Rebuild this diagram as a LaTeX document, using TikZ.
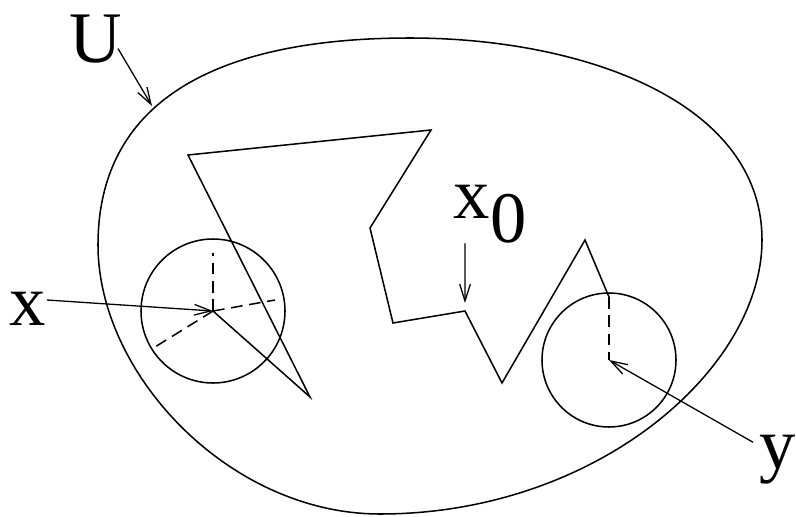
\documentclass[tikz,border=0pt]{standalone}
\usepackage{fontspec}
\setmainfont{Liberation Serif}
\usetikzlibrary{arrows.meta}
\tikzset{
  lbl/.style={inner sep=0pt, font=\fontsize{62}{62}\selectfont},
  barb/.style={-{Straight Barb[length=5mm,width=3.2mm]}, line width=1.1pt},
  aux/.style={dash pattern=on 3.5mm off 2mm},
}
\begin{document}
\begin{tikzpicture}[x=0.3mm,y=-0.3mm,line width=1.3pt]
\useasboundingbox (0,0) rectangle (796,517);

% the set U
\draw (410,38) .. controls (580,38) and (762,100) .. (762,240)
 .. controls (762,370) and (595,514) .. (380,514)
 .. controls (230,514) and (98,375) .. (98,245)
 .. controls (98,105) and (210,38) .. cycle;

% the two balls
\coordinate (xc) at (213,311);
\coordinate (yc) at (609,360);
\draw (xc) circle[radius=21.6mm];
\draw (yc) circle[radius=20.1mm];
\draw[aux] (xc) -- (213,253);
\draw[aux] (xc) -- (275,300);
\draw[aux] (xc) -- (155,347);

% the polygonal path
\coordinate (x0p) at (465,311);
\coordinate (ye) at (609,297);
\draw (xc) -- (310,397) -- (188,155) -- (431,130) -- (370,228) -- (393,323)
 -- (x0p) -- (502,383) -- (585,240) -- (ye);
\draw[aux] (ye) -- (yc);

% labels
\coordinate (ub) at (152,106);
\node[lbl,anchor=base] (U) at (96,62) {U};
\node[lbl,anchor=base] (x) at (28,325) {x};
\node[lbl,anchor=base west] (x0) at (453,218) {x\raisebox{-7.2mm}{0}};
\node[lbl,anchor=base west] (y) at (759,468) {y};

\draw[barb] ([xshift=-1.5mm,yshift=-3mm]U.east) -- (ub);
\draw[barb] ([yshift=2.5mm]x.east) -- (xc);
\draw[barb, shorten >=2.4mm] ([xshift=3.6mm]x0.south west) -- (x0p);
\draw[barb] ([xshift=-1.8mm,yshift=-2.5mm]y.north west) -- (yc);
\end{tikzpicture}
\end{document}
